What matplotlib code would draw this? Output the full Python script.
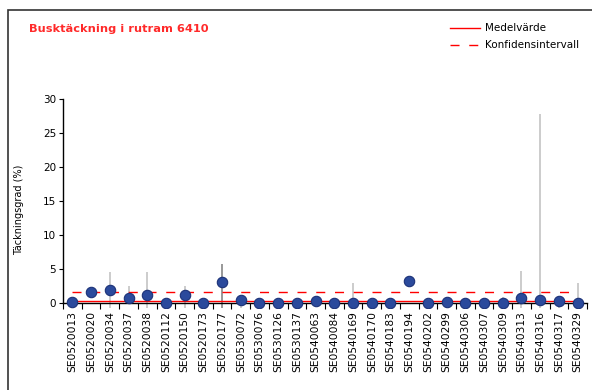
import numpy as np
import matplotlib.pyplot as plt
from matplotlib.lines import Line2D
from matplotlib.patches import Rectangle

# Provytor i rutram 6410
plots = ['SE0520013', 'SE0520020', 'SE0520034', 'SE0520037', 'SE0520038',
         'SE0520112', 'SE0520150', 'SE0520173', 'SE0520177', 'SE0530072',
         'SE0530076', 'SE0530126', 'SE0530137', 'SE0540063', 'SE0540084',
         'SE0540169', 'SE0540170', 'SE0540183', 'SE0540194', 'SE0540202',
         'SE0540299', 'SE0540306', 'SE0540307', 'SE0540309', 'SE0540313',
         'SE0540316', 'SE0540317', 'SE0540329']

# Täckningsgrad (%) per provyta
cover = [0.1, 1.6, 1.9, 0.7, 1.1, 0.0, 1.1, 0.0, 3.15, 0.5,
         0.0, 0.0, 0.0, 0.35, 0.0, 0.0, 0.0, 0.0, 3.3, 0.0,
         0.1, 0.0, 0.0, 0.0, 0.8, 0.5, 0.3, 0.0]

# Spridning per provyta (nan = ingen stapel)
nan = np.nan
spread_low = [nan, nan, -1, 0.0, -1, nan, -1, nan, -1, -1,
              nan, nan, nan, nan, nan, -1, nan, nan, nan, nan,
              nan, nan, nan, -1, -1, -1, -1, -1]
spread_high = [nan, nan, 4.5, 2.5, 4.5, nan, 2.5, nan, 5.7, 0.6,
               nan, nan, nan, nan, nan, 2.9, nan, nan, nan, nan,
               nan, nan, nan, 0.9, 4.7, 27.8, 0.5, 2.9]

mean_value = 0.3
ci_upper = 1.55

x = np.arange(len(plots))

fig = plt.figure(figsize=(5.92, 3.9), dpi=100)
ax = fig.add_axes([63 / 592, 1 - 308.4 / 390, 524 / 592, 209.4 / 390])

# spridningsstaplar
bar_colors = ['#c8c8c8'] * len(plots)
bar_colors[8] = '#909090'
ax.vlines(x, spread_low, spread_high, colors=bar_colors, linewidth=1.3, zorder=1)

# medelvärde och konfidensintervall
ax.plot(x, [mean_value] * len(x), color='#ff0000', linewidth=1.0, zorder=2)
ax.plot(x, [ci_upper] * len(x), color='#ff0000', linewidth=1.0,
        dashes=(6.5, 7), zorder=2)

ax.plot(x, cover, linestyle='none', marker='o', markersize=7.5,
        markerfacecolor='#2b4a9c', markeredgecolor='#1c3278',
        markeredgewidth=0.8, zorder=3)

ax.set_xlim(-0.5, len(plots) - 0.5)
ax.set_ylim(-0.8, 30)
ax.spines['top'].set_visible(False)
ax.spines['right'].set_visible(False)
ax.spines['bottom'].set_position(('data', 0))
ax.spines['left'].set_bounds(0, 30)
for s in ('left', 'bottom'):
    ax.spines[s].set_linewidth(1.0)

ax.set_yticks(range(0, 31, 5))
ax.tick_params(axis='y', length=3, width=0.8, labelsize=7.5, pad=2)

ax.set_xticks(x)
ax.set_xticklabels(plots, rotation=90, fontsize=7.7)
ax.set_xticks(np.arange(-0.5, len(plots)), minor=True)
ax.tick_params(axis='x', which='major', length=0, pad=6)
ax.tick_params(axis='x', which='minor', length=4, width=0.8)

ax.set_ylabel('Täckningsgrad (%)', fontsize=7)
ax.yaxis.set_label_coords(-0.075, 0.47)

fig.text(29 / 592, 1 - 29 / 390, 'Busktäckning i rutram 6410',
         color='#ff2a2a', fontsize=8.2, fontweight='bold', va='center')

handles = [Line2D([], [], color='#ff0000', linewidth=1.0),
           Line2D([], [], color='#ff0000', linewidth=1.0, dashes=(6.5, 7))]
fig.legend(handles, ['Medelvärde', 'Konfidensintervall'], loc='upper left',
           bbox_to_anchor=(446 / 592, 1 - 19 / 390), frameon=False,
           fontsize=7.5, handlelength=2.9, handletextpad=0.45,
           labelspacing=0.7, borderaxespad=0)

# ram runt diagrammet
fig.patches.append(Rectangle((8 / 592, -0.05), 1.1, 1.05 - 10 / 390,
                             transform=fig.transFigure, fill=False,
                             edgecolor='#333333', linewidth=1.2))

fig.savefig('out.png', dpi=100)
